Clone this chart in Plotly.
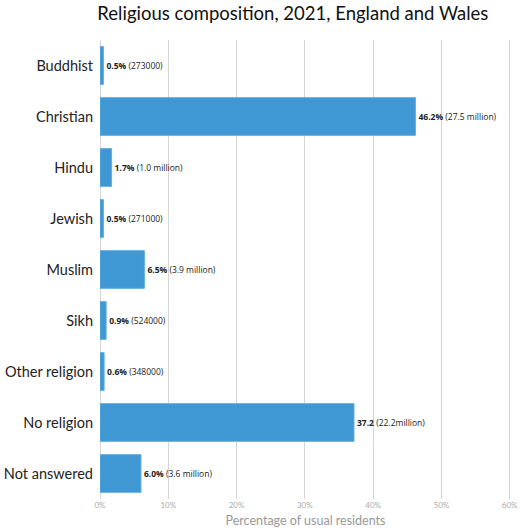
import plotly.graph_objects as go

categories = ["Buddhist", "Christian", "Hindu", "Jewish", "Muslim", "Sikh",
              "Other religion", "No religion", "Not answered"]
percent = [0.5, 46.2, 1.7, 0.5, 6.5, 0.9, 0.6, 37.2, 6.0]
pct_labels = ["0.5%", "46.2%", "1.7%", "0.5%", "6.5%", "0.9%", "0.6%", "37.2", "6.0%"]
count_labels = ["(273000)", "(27.5 million)", "(1.0 million)", "(271000)",
                "(3.9 million)", "(524000)", "(348000)", "(22.2million)", "(3.6 million)"]
x_ticks = [0, 10, 20, 30, 40, 50, 60]
x_tick_labels = ["0%", "10%", "20%", "30%", "40%", "50%", "60%"]

texts = [f"<b>{p}</b> {c}" for p, c in zip(pct_labels, count_labels)]

fig = go.Figure(go.Bar(
    y=categories,
    x=percent,
    orientation="h",
    width=0.74,
    marker=dict(color="#3F97D3", line=dict(color="#62ADE2", width=1)),
    text=texts,
    textposition="outside",
    textfont=dict(family="Open Sans, sans-serif", size=8.5, color="#222222"),
    cliponaxis=False,
    hoverinfo="skip",
))

fig.update_layout(
    width=523, height=531,
    margin=dict(l=100, r=12, t=40, b=32),
    paper_bgcolor="white", plot_bgcolor="white",
    title=dict(text="Religious composition, 2021, England and Wales",
               x=0.56, xanchor="center", xref="container",
               y=0.975, yref="container", yanchor="middle", automargin=False,
               font=dict(family="Lato, sans-serif", size=18.5, color="#111111")),
    xaxis=dict(range=[0, 60.2], tickvals=x_ticks, ticktext=x_tick_labels,
               automargin=False,
               showgrid=True, gridcolor="#d6d6d6", gridwidth=1,
               zeroline=True, zerolinecolor="#d6d6d6", zerolinewidth=1,
               tickfont=dict(family="Lato, sans-serif", size=8, color="#aaaaaa"),
               ticks="", ticklen=0,
               title=dict(text="Percentage of usual residents", standoff=7,
                          font=dict(family="Lato, sans-serif", size=12.5, color="#999999"))),
    yaxis=dict(autorange="reversed", showgrid=False, ticks="", ticklabelstandoff=6,
               automargin=False,
               tickfont=dict(family="Lato, sans-serif", size=14.5, color="#222222")),
    showlegend=False,
)

fig.write_html("out.html", config={"displayModeBar": False},
               post_script="document.body.style.margin='0';document.body.style.padding='0';")
